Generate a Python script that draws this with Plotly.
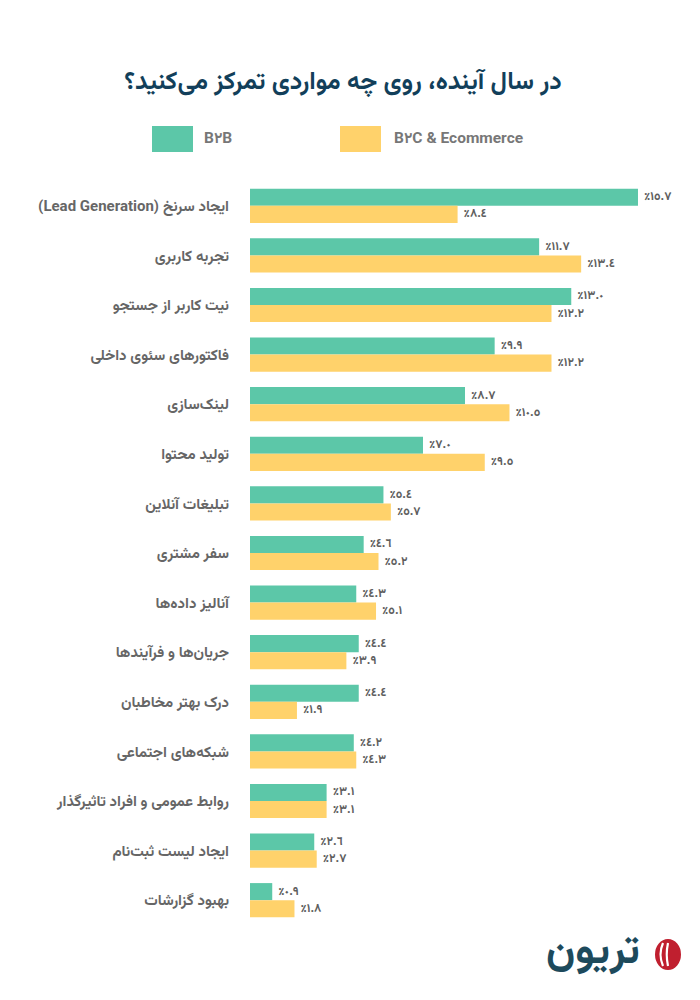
import plotly.graph_objects as go

# ---------------- data ----------------
categories = [
    "ایجاد سرنخ (Lead Generation)",
    "تجربه کاربری",
    "نیت کاربر از جستجو",
    "فاکتورهای سئوی داخلی",
    "لینک‌سازی",
    "تولید محتوا",
    "تبلیغات آنلاین",
    "سفر مشتری",
    "آنالیز داده‌ها",
    "جریان‌ها و فرآیندها",
    "درک بهتر مخاطبان",
    "شبکه‌های اجتماعی",
    "روابط عمومی و افراد تاثیرگذار",
    "ایجاد لیست ثبت‌نام",
    "بهبود گزارشات",
]
b2b_values = [15.7, 11.7, 13.0, 9.9, 8.7, 7.0, 5.4, 4.6, 4.3, 4.4, 4.4, 4.2, 3.1, 2.6, 0.9]
b2c_values = [8.4, 13.4, 12.2, 12.2, 10.5, 9.5, 5.7, 5.2, 5.1, 3.9, 1.9, 4.3, 3.1, 2.7, 1.8]
series_names = ["B٢B", "B٢C & Ecommerce"]
title_text = "در سال آینده، روی چه مواردی تمرکز می‌کنید؟"
logo_text = "تریون"

# ---------------- helpers ----------------
W, H = 700, 1000
L, R, T, B = 250, 20, 181, 75
PW, PH = W - L - R, H - T - B

def px(x):
    return (x - L) / PW

def py(y):
    return (H - B - y) / PH

AR_DIGITS = str.maketrans("0123456789", "٠١٢٣٤٥٦٧٨٩")

def fmt(v):
    return " ٪" + f"{v:.1f}".translate(AR_DIGITS)

def rtl(s):
    return "\u202B" + s + "\u202C"

FONT = "Vazirmatn, 'Noto Sans Arabic', 'DejaVu Sans', sans-serif"
GREEN = "#5CC7A8"
YELLOW = "#FFD26B"
LABEL_GREY = "#666666"
VALUE_GREY = "#5E5E5E"
NAVY = "#123F5A"

cat_labels = [rtl(c) for c in categories]

fig = go.Figure()
for name, vals, col in [(series_names[0], b2b_values, GREEN), (series_names[1], b2c_values, YELLOW)]:
    fig.add_trace(go.Bar(
        y=cat_labels, x=vals, orientation="h", name=name,
        marker=dict(color=col, line=dict(width=0)),
        text=[fmt(v) for v in vals], textposition="outside",
        textfont=dict(family=FONT, size=12, color=VALUE_GREY, weight="bold"),
        constraintext="none", cliponaxis=False, showlegend=False,
        hoverinfo="skip",
    ))

fig.update_layout(
    width=W, height=H,
    margin=dict(l=L, r=R, t=T, b=B, pad=0),
    paper_bgcolor="white", plot_bgcolor="white",
    barmode="group", bargap=0.31, bargroupgap=0,
    font=dict(family=FONT),
    title=dict(
        text=rtl(title_text), x=0.49, xref="container", xanchor="center",
        y=1 - 80 / H, yref="container", yanchor="middle",
        font=dict(family=FONT, size=25, color=NAVY, weight="bold"),
    ),
    xaxis=dict(range=[0, 17.4], visible=False, showgrid=False, zeroline=False, fixedrange=True),
    yaxis=dict(
        autorange="reversed", showgrid=False, zeroline=False, showline=False,
        ticks="", ticklabelstandoff=20, fixedrange=True,
        tickfont=dict(family=FONT, size=15, color=LABEL_GREY, weight="bold"),
    ),
)

# legend (manual, large swatches)
shapes = []
annotations = []
for (x0, x1, tx), name, col in zip([(152, 193, 202), (340, 381, 392)], series_names, [GREEN, YELLOW]):
    shapes.append(dict(type="rect", xref="paper", yref="paper",
                       x0=px(x0), x1=px(x1), y0=py(152), y1=py(126),
                       fillcolor=col, line=dict(width=0)))
    annotations.append(dict(text=name, xref="paper", yref="paper", x=px(tx), y=py(139),
                            xanchor="left", yanchor="middle", showarrow=False,
                            font=dict(family=FONT, size=15.5, color="#777777", weight="bold")))

# logo
shapes.append(dict(type="circle", xref="paper", yref="paper",
                   x0=px(655), x1=px(681), y0=py(970), y1=py(939),
                   fillcolor="#C01F2F", line=dict(width=0)))
for dx in (0, 5):
    xa = 663 + dx
    shapes.append(dict(type="path", xref="paper", yref="paper",
                       path=f"M {px(xa)},{py(943)} Q {px(xa - 5 + dx/2)},{py(954.5)} {px(xa)},{py(966)}",
                       line=dict(color="white", width=2.2)))
annotations.append(dict(text=logo_text, xref="paper", yref="paper", x=px(642), y=py(953),
                        xanchor="right", yanchor="middle", showarrow=False,
                        font=dict(family=FONT, size=42, color="#1D4A5C", weight="bold")))

fig.update_layout(shapes=shapes, annotations=annotations)
fig.write_html("out.html", config={"displayModeBar": False},
               post_script="document.body.style.margin='0';document.body.style.overflow='hidden';")
